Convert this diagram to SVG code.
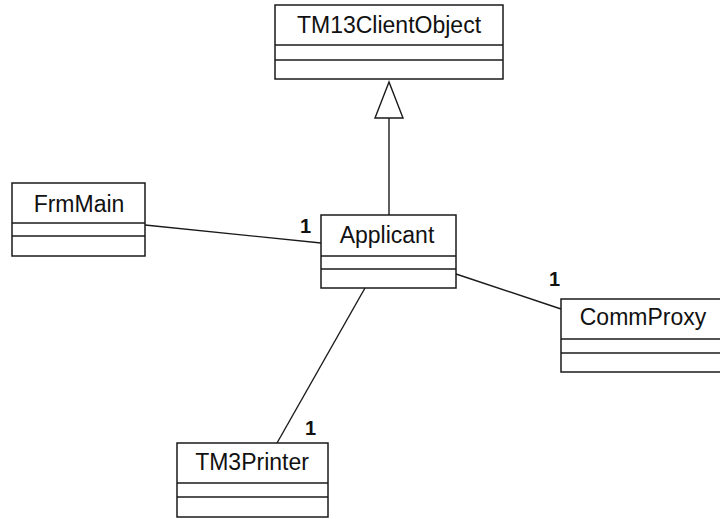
<svg xmlns="http://www.w3.org/2000/svg" width="720" height="519" viewBox="0 0 720 519">
  <style>
    .box { fill: #ffffff; stroke: #1a1a1a; stroke-width: 1.5; }
    .div { stroke: #1a1a1a; stroke-width: 1.5; }
    .name { font-family: "Liberation Sans", Arial, sans-serif; font-size: 23px; fill: #111; text-anchor: middle; }
    .mult { font-family: "Liberation Sans", Arial, sans-serif; font-size: 20px; font-weight: bold; fill: #111; }
    .conn { stroke: #1a1a1a; stroke-width: 1.4; fill: none; }
  </style>
  <rect width="720" height="519" fill="#ffffff"/>
  <g id="connectors">
    <line class="conn" x1="389" y1="118" x2="389" y2="215"/>
    <polygon points="389,82 375,118 403,118" fill="#ffffff" stroke="#1a1a1a" stroke-width="1.4"/>
    <line class="conn" x1="145" y1="225" x2="321" y2="243"/>
    <line class="conn" x1="456" y1="274" x2="561" y2="309"/>
    <line class="conn" x1="365" y1="288" x2="277" y2="443"/>
    <text class="mult" x="300" y="233">1</text>
    <text class="mult" x="549" y="286">1</text>
    <text class="mult" x="305" y="435">1</text>
  </g>
  <g id="TM13ClientObject">
    <rect class="box" x="275" y="5" width="228" height="74"/>
    <line class="div" x1="275" y1="45" x2="503" y2="45"/>
    <line class="div" x1="275" y1="60" x2="503" y2="60"/>
    <text class="name" x="389" y="33">TM13ClientObject</text>
  </g>
  <g id="FrmMain">
    <rect class="box" x="12" y="183" width="133" height="73"/>
    <line class="div" x1="12" y1="223" x2="145" y2="223"/>
    <line class="div" x1="12" y1="236" x2="145" y2="236"/>
    <text class="name" x="79" y="212">FrmMain</text>
  </g>
  <g id="Applicant">
    <rect class="box" x="321" y="215" width="135" height="73"/>
    <line class="div" x1="321" y1="256" x2="456" y2="256"/>
    <line class="div" x1="321" y1="269" x2="456" y2="269"/>
    <text class="name" x="387" y="243">Applicant</text>
  </g>
  <g id="CommProxy">
    <rect class="box" x="561" y="299" width="165" height="73"/>
    <line class="div" x1="561" y1="339" x2="726" y2="339"/>
    <line class="div" x1="561" y1="353" x2="726" y2="353"/>
    <text class="name" x="643" y="325">CommProxy</text>
  </g>
  <g id="TM3Printer">
    <rect class="box" x="177" y="443" width="151" height="74"/>
    <line class="div" x1="177" y1="483" x2="328" y2="483"/>
    <line class="div" x1="177" y1="497" x2="328" y2="497"/>
    <text class="name" x="252" y="470">TM3Printer</text>
  </g>
</svg>
